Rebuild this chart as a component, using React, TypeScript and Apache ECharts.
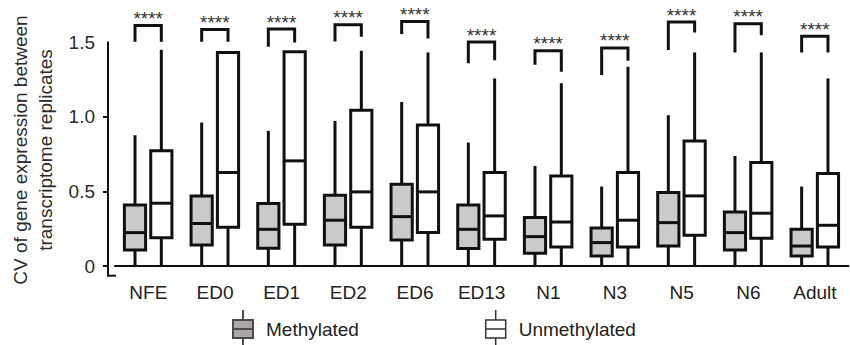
import React, { useEffect, useRef } from "react";
import * as echarts from "echarts";

const categories = ["NFE", "ED0", "ED1", "ED2", "ED6", "ED13", "N1", "N3", "N5", "N6", "Adult"];

// [min, q1, median, q3, max]
const methylated = [
  [0, 0.107, 0.224, 0.409, 0.877],
  [0, 0.141, 0.285, 0.47, 0.962],
  [0, 0.119, 0.246, 0.419, 0.906],
  [0, 0.141, 0.307, 0.474, 0.973],
  [0, 0.174, 0.331, 0.548, 1.1],
  [0, 0.117, 0.246, 0.409, 0.828],
  [0, 0.085, 0.197, 0.325, 0.671],
  [0, 0.067, 0.157, 0.255, 0.533],
  [0, 0.134, 0.291, 0.493, 1.011],
  [0, 0.107, 0.224, 0.362, 0.738],
  [0, 0.067, 0.134, 0.246, 0.533],
];

const unmethylated = [
  [0, 0.19, 0.421, 0.772, 1.45],
  [0, 0.26, 0.627, 1.432, 1.432],
  [0, 0.28, 0.705, 1.436, 1.436],
  [0, 0.26, 0.497, 1.045, 1.443],
  [0, 0.224, 0.497, 0.946, 1.432],
  [0, 0.179, 0.336, 0.627, 1.258],
  [0, 0.128, 0.295, 0.604, 1.226],
  [0, 0.128, 0.307, 0.627, 1.336],
  [0, 0.206, 0.47, 0.839, 1.432],
  [0, 0.186, 0.354, 0.694, 1.432],
  [0, 0.128, 0.273, 0.62, 1.258],
];

// significance brackets: top bar, left leg end, right leg end
const bracketTop = [1.612, 1.585, 1.589, 1.618, 1.64, 1.502, 1.444, 1.462, 1.636, 1.625, 1.54];
const bracketLeft = [1.503, 1.503, 1.47, 1.506, 1.555, 1.36, 1.349, 1.28, 1.448, 1.432, 1.432];
const bracketRight = [1.503, 1.503, 1.499, 1.537, 1.526, 1.38, 1.302, 1.376, 1.566, 1.548, 1.432];
const significance = ["****", "****", "****", "****", "****", "****", "****", "****", "****", "****", "****"];

const yLabelTicks = [0, 0.5, 1, 1.5];
const yTickMarks = [0, 0.5, 1];

const FONT = "'Liberation Sans', Arial, Helvetica, sans-serif";
const STROKE = "#111111";
const METH_FILL = "#c9cbc9";
const OFF_M = -0.2;
const OFF_U = 0.195;
const BOX_FRAC = 0.318;

function boxRenderer(offset: number, fill: string) {
  return (params: any, api: any) => {
    const i = api.value(0);
    const band = api.size([1, 0])[0];
    const base = api.coord([i, 0]);
    const cx = base[0] + offset * band;
    const w = band * BOX_FRAC;
    const yMin = api.coord([i, api.value(1)])[1];
    const yQ1 = api.coord([i, api.value(2)])[1];
    const yMed = api.coord([i, api.value(3)])[1];
    const yQ3 = api.coord([i, api.value(4)])[1];
    const yMax = api.coord([i, api.value(5)])[1];
    const ls = { stroke: STROKE, lineWidth: 3, fill: null };
    return {
      type: "group",
      children: [
        { type: "line", shape: { x1: cx, y1: yMax, x2: cx, y2: yQ3 }, style: ls },
        { type: "line", shape: { x1: cx, y1: yQ1, x2: cx, y2: yMin }, style: ls },
        {
          type: "rect",
          shape: { x: cx - w / 2, y: yQ3, width: w, height: yQ1 - yQ3 },
          style: { fill, stroke: STROKE, lineWidth: 3 },
        },
        { type: "line", shape: { x1: cx - w / 2, y1: yMed, x2: cx + w / 2, y2: yMed }, style: ls },
      ],
    };
  };
}

function bracketRenderer(params: any, api: any) {
  const i = api.value(0);
  const band = api.size([1, 0])[0];
  const base = api.coord([i, 0]);
  const xl = base[0] + OFF_M * band;
  const xr = base[0] + OFF_U * band;
  const yT = api.coord([i, api.value(1)])[1];
  const yL = api.coord([i, api.value(2)])[1];
  const yR = api.coord([i, api.value(3)])[1];
  return {
    type: "group",
    children: [
      {
        type: "polyline",
        shape: { points: [[xl, yL], [xl, yT], [xr, yT], [xr, yR]] },
        style: { stroke: STROKE, lineWidth: 3, fill: null, lineJoin: "miter" },
      },
      {
        type: "text",
        x: (xl + xr) / 2,
        y: yT - 7,
        style: {
          text: significance[i],
          fontSize: 19,
          fontFamily: FONT,
          fill: "#333333",
          align: "center",
          verticalAlign: "middle",
        },
      },
    ],
  };
}

const legendIcon = "path://M10,0 L10,10 M0,10 L20,10 L20,28 L0,28 Z M0,19 L20,19 M10,28 L10,38";

export default function App() {
  const ref = useRef<HTMLDivElement>(null);
  useEffect(() => {
    if (!ref.current) return;
    const chart = echarts.init(ref.current, undefined, { renderer: "svg" });
    const mData = methylated.map((d, i) => [i, ...d]);
    const uData = unmethylated.map((d, i) => [i, ...d]);
    const bData = bracketTop.map((t, i) => [i, t, bracketLeft[i], bracketRight[i]]);
    chart.setOption({
      animation: false,
      backgroundColor: "#ffffff",
      textStyle: { fontFamily: FONT },
      grid: {
        left: 115,
        right: 1.7,
        top: 42.3,
        bottom: 69.3,
        containLabel: false,
        outerBoundsMode: "none",
      },
      legend: {
        left: 232,
        top: 309,
        padding: 0,
        itemWidth: 20,
        itemHeight: 38,
        itemGap: 126,
        icon: legendIcon,
        selectedMode: false,
        textStyle: { fontSize: 19, color: "#222222", fontFamily: FONT, padding: [6, 0, 0, 8] },
        data: [
          {
            name: "Methylated",
            itemStyle: { color: "#aba7a6", borderColor: "#4a4a4a", borderWidth: 2 },
          },
          {
            name: "Unmethylated",
            itemStyle: { color: "#ffffff", borderColor: "#333333", borderWidth: 1.5 },
          },
        ],
      },
      xAxis: {
        type: "category",
        data: categories,
        boundaryGap: true,
        axisLine: { lineStyle: { color: STROKE, width: 2 } },
        axisTick: { alignWithLabel: true, length: 5, lineStyle: { color: STROKE, width: 2 } },
        axisLabel: { fontSize: 19, color: "#222222", margin: 7, fontFamily: FONT, interval: 0 },
        splitLine: { show: false },
      },
      yAxis: {
        type: "value",
        min: -0.065,
        max: 1.5,
        offset: 7,
        axisLine: { show: true, lineStyle: { color: STROKE, width: 2 } },
        axisTick: {
          show: true,
          length: 5,
          customValues: yTickMarks,
          lineStyle: { color: STROKE, width: 2 },
        },
        axisLabel: {
          fontSize: 19,
          color: "#2b2b2b",
          margin: 13,
          fontFamily: FONT,
          customValues: yLabelTicks,
          formatter: (v: number) => (v === 0 ? "0" : v.toFixed(1)),
        },
        splitLine: { show: false },
      },
      graphic: [
        {
          type: "line",
          shape: { x1: 107, y1: 275.7, x2: 116, y2: 275.7 },
          style: { stroke: STROKE, lineWidth: 2 },
        },
        {
          type: "text",
          x: 32.5,
          y: 150,
          rotation: Math.PI / 2,
          style: {
            text: "CV of gene expression between\ntranscriptome replicates",
            fontSize: 19,
            fontFamily: FONT,
            fill: "#2b2b2b",
            textAlign: "center",
            textVerticalAlign: "middle",
            lineHeight: 25,
          },
        },
      ],
      series: [
        {
          name: "Methylated",
          type: "custom",
          renderItem: boxRenderer(OFF_M, METH_FILL),
          encode: { x: 0, y: [1, 2, 3, 4, 5] },
          data: mData,
          itemStyle: { color: "#aba7a6" },
          z: 2,
        },
        {
          name: "Unmethylated",
          type: "custom",
          renderItem: boxRenderer(OFF_U, "#ffffff"),
          encode: { x: 0, y: [1, 2, 3, 4, 5] },
          data: uData,
          itemStyle: { color: "#ffffff" },
          z: 2,
        },
        {
          name: "significance",
          type: "custom",
          renderItem: bracketRenderer,
          encode: { x: 0, y: [1, 2, 3] },
          data: bData,
          clip: false,
          z: 3,
        },
      ],
    });
    return () => chart.dispose();
  }, []);
  return (
    <div
      ref={ref}
      style={{ position: "absolute", left: 0, top: 0, width: 850, height: 345, background: "#fff" }}
    />
  );
}
